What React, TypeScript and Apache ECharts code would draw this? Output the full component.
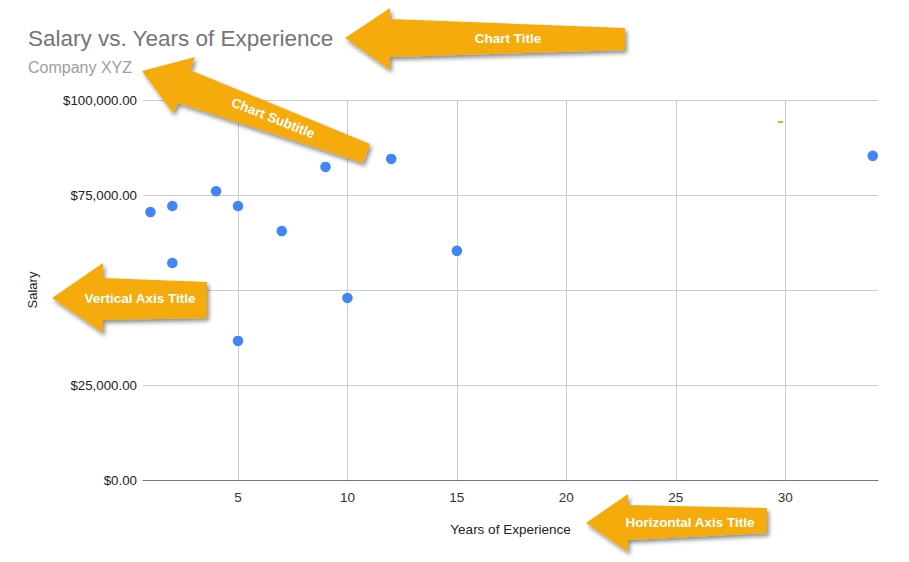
import React, { useEffect, useRef } from "react";
import * as echarts from "echarts";

const years = [1, 2, 2, 4, 5, 5, 7, 9, 10, 12, 15, 34];
const salaries = [70500, 72100, 57100, 76000, 72100, 36600, 65500, 82400, 47900, 84500, 60300, 85300];
const xTicks = [5, 10, 15, 20, 25, 30];
const hiddenYLabels = [50000]; // covered by the "Vertical Axis Title" callout in the reference

const ORANGE = "#F6AB0B";

function arrowShape(points: number[][]) {
  return {
    type: "polygon",
    shape: { points },
    style: {
      fill: ORANGE,
      shadowBlur: 4,
      shadowColor: "rgba(0,0,0,0.45)",
      shadowOffsetX: 2,
      shadowOffsetY: 3,
    },
    z: 100,
  };
}

function arrowText(text: string, x: number, y: number, rotation = 0) {
  return {
    type: "text",
    x,
    y,
    rotation,
    style: {
      text,
      fill: "#fff",
      font: "bold 13.5px 'Liberation Sans', Arial, sans-serif",
      textAlign: "center",
      textVerticalAlign: "middle",
    },
    z: 101,
  };
}

export default function App() {
  const ref = useRef<HTMLDivElement>(null);
  useEffect(() => {
    if (!ref.current) return;
    const chart = echarts.init(ref.current, null, { renderer: "svg" });
    const font = "'Liberation Sans', Arial, sans-serif";
    chart.setOption({
      animation: false,
      backgroundColor: "#fff",
      textStyle: { fontFamily: font },
      title: {
        text: "Salary vs. Years of Experience",
        subtext: "Company XYZ",
        left: 23,
        top: 22,
        itemGap: 9,
        textStyle: { fontSize: 22.5, fontWeight: "normal", color: "#757575", fontFamily: font },
        subtextStyle: { fontSize: 16, color: "#9e9e9e", fontFamily: font },
      },
      grid: { left: 143, right: 31, top: 100, bottom: 82 },
      xAxis: {
        type: "value",
        min: 0.66,
        max: 34.24,
        name: "Years of Experience",
        nameLocation: "middle",
        nameGap: 42,
        nameTextStyle: { color: "#222", fontSize: 13.5 },
        axisLine: { show: true, onZero: false, lineStyle: { color: "#777", width: 1 } },
        axisTick: { show: false },
        splitLine: { show: false },
        axisLabel: {
          customValues: xTicks,
          color: "#333",
          fontSize: 13.5,
          margin: 10,
        },
      },
      yAxis: {
        type: "value",
        min: 0,
        max: 100000,
        interval: 25000,
        name: "Salary",
        nameLocation: "middle",
        nameGap: 104,
        nameRotate: 90,
        nameTextStyle: { color: "#222", fontSize: 13 },
        axisLine: { show: false },
        axisTick: { show: false },
        splitLine: { show: true, lineStyle: { color: "#cccccc", width: 1 } },
        axisLabel: {
          color: "#222",
          fontSize: 13.3,
          margin: 6,
          formatter: (v: number) =>
            hiddenYLabels.includes(v)
              ? ""
              : "$" + v.toLocaleString("en-US", { minimumFractionDigits: 2, maximumFractionDigits: 2 }),
        },
      },
      series: [
        {
          type: "scatter",
          data: years.map((x, i) => [x, salaries[i]]),
          symbolSize: 10.5,
          itemStyle: { color: "#4285F4", opacity: 1 },
          z: 5,
          markLine: {
            silent: true,
            symbol: "none",
            label: { show: false },
            lineStyle: { color: "#cccccc", width: 1, type: "solid" },
            data: xTicks.map((v) => ({ xAxis: v })),
            z: 1,
          },
        },
      ],
      graphic: [
        arrowShape([
          [345, 38], [390, 8], [390, 19], [625, 28], [625, 50], [390, 57], [390, 70],
        ]),
        arrowText("Chart Title", 508, 38),
        arrowShape([
          [142, 71], [195, 57], [190, 70], [370, 144], [363, 163], [178, 103], [173, 113],
        ]),
        arrowText("Chart Subtitle", 273, 118, -0.377),
        arrowShape([
          [52, 298], [103, 263], [103, 278], [207, 282], [207, 318], [103, 320], [103, 333],
        ]),
        arrowText("Vertical Axis Title", 140, 298),
        arrowShape([
          [586, 523], [628, 494], [628, 505], [767, 508], [767, 533], [628, 540], [628, 552],
        ]),
        arrowText("Horizontal Axis Title", 690, 522),
        {
          type: "rect",
          shape: { x: 778, y: 121, width: 5, height: 2 },
          style: { fill: ORANGE },
          z: 100,
        },
      ],
    });
    return () => chart.dispose();
  }, []);
  return (
    <div
      ref={ref}
      style={{ position: "fixed", left: 0, top: 0, width: 909, height: 562 }}
    />
  );
}
